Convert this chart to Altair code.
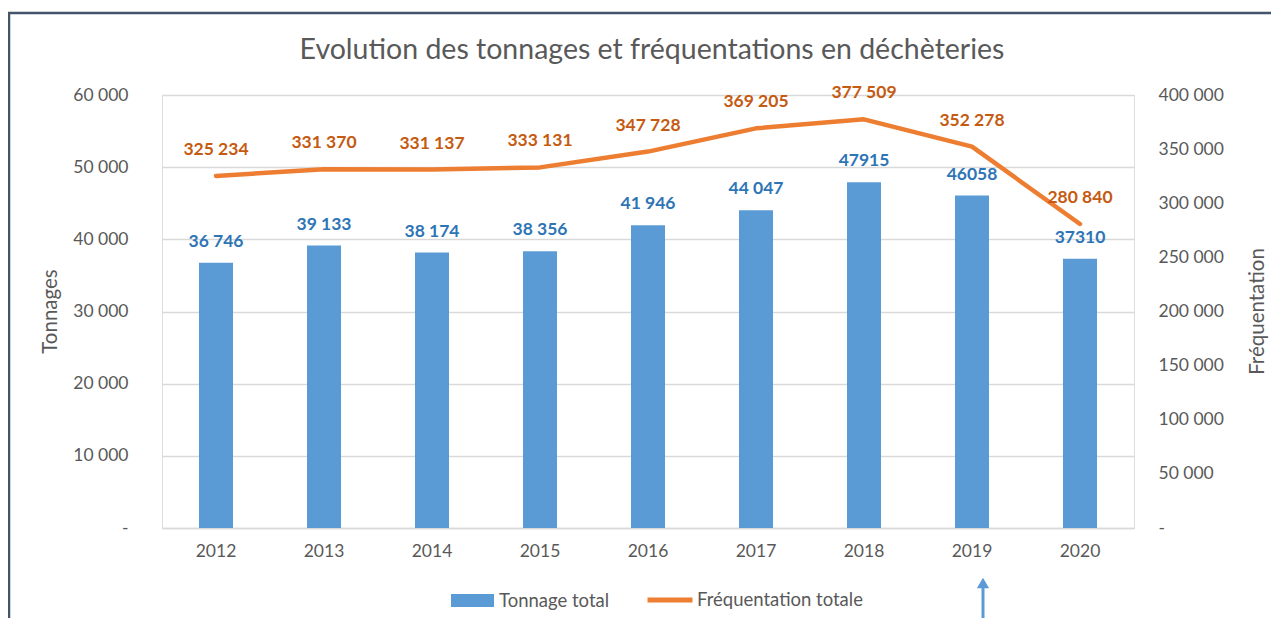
import altair as alt
import pandas as pd

years = ["2012", "2013", "2014", "2015", "2016", "2017", "2018", "2019", "2020"]
tonnage = [36746, 39133, 38174, 38356, 41946, 44047, 47915, 46058, 37310]
tonnage_labels = ["36 746", "39 133", "38 174", "38 356", "41 946", "44 047", "47915", "46058", "37310"]
frequentation = [325234, 331370, 331137, 333131, 347728, 369205, 377509, 352278, 280840]
freq_labels = ["325 234", "331 370", "331 137", "333 131", "347 728", "369 205", "377 509", "352 278", "280 840"]
left_ticks = [0, 10000, 20000, 30000, 40000, 50000, 60000]
right_ticks = [0, 50000, 100000, 150000, 200000, 250000, 300000, 350000, 400000]
title_text = "Evolution des tonnages et fréquentations en déchèteries"

df = pd.DataFrame({
    "annee": years,
    "tonnage": tonnage,
    "tonnage_label": tonnage_labels,
    "freq": frequentation,
    "freq_label": freq_labels,
    "serie_t": ["Tonnage total"] * len(years),
    "serie_f": ["Fréquentation totale"] * len(years),
})

FONT = "Lato"
GREY = "#595959"
BLUE = "#5B9BD5"
ORANGE = "#ED7D31"
LBL_FMT = "datum.value == 0 ? '-' : replace(format(datum.value, ','), ',', ' ')"
TICK_FS = 17.5

x_enc = alt.X(
    "annee:N", sort=years, title=None,
    scale=alt.Scale(type="band", paddingInner=0, paddingOuter=0),
    axis=alt.Axis(labelFontSize=TICK_FS, labelColor=GREY, labelFont=FONT, ticks=False, tickSize=0,
                  labelPadding=14, domainColor="#D9D9D9", domainWidth=1.5, labelAngle=0, grid=False),
)

left_axis = alt.Axis(
    values=left_ticks, labelExpr=LBL_FMT, title="Tonnages", titleFont=FONT, titleFontSize=20.5,
    titleFontWeight="normal", titleColor=GREY, titleX=-112, titleY=216, titleAngle=270,
    titleBaseline="middle", titleAlign="center",
    labelFontSize=TICK_FS, labelFont=FONT, labelColor=GREY, labelPadding=34, ticks=False, tickSize=0,
    domain=False, grid=True, gridColor="#D9D9D9", gridWidth=1.5,
)
right_axis = alt.Axis(
    values=right_ticks, labelExpr=LBL_FMT, title="Fréquentation", orient="right", titleFont=FONT,
    titleFontSize=20.5, titleFontWeight="normal", titleColor=GREY, titleX=123, titleY=216,
    titleAngle=270, titleBaseline="middle", titleAlign="center",
    labelFontSize=TICK_FS, labelFont=FONT, labelColor=GREY, labelPadding=24, ticks=False, tickSize=0,
    domain=False, grid=False,
)

y_left = alt.Y("tonnage:Q", scale=alt.Scale(domain=[0, 60000], nice=False), axis=left_axis)
y_right = alt.Y("freq:Q", scale=alt.Scale(domain=[0, 400000], nice=False), axis=right_axis)

base = alt.Chart(df)

bars = base.mark_bar(size=34).encode(
    x=x_enc, y=y_left,
    fill=alt.Fill("serie_t:N", scale=alt.Scale(domain=["Tonnage total"], range=[BLUE]),
                  legend=alt.Legend(title=None, orient="none", legendX=289, legendY=484,
                                    symbolType="M-1,-0.3H1V0.3H-1Z", symbolSize=1849,
                                    symbolStrokeWidth=0, labelFont=FONT, labelFontSize=18.5,
                                    labelColor=GREY, labelOffset=5, labelLimit=400, padding=0)),
)
bar_text = base.mark_text(dy=-21, fontSize=17.5, fontWeight="bold", color="#2E75B6", font=FONT).encode(
    x=x_enc, y=y_left, text="tonnage_label:N"
)

line = base.mark_line(strokeWidth=4.5, strokeJoin="round", strokeCap="round").encode(
    x=x_enc, y=y_right,
    stroke=alt.Stroke("serie_f:N", scale=alt.Scale(domain=["Fréquentation totale"], range=[ORANGE]),
                      legend=alt.Legend(title=None, orient="none", legendX=483, legendY=480,
                                        symbolType="stroke", symbolSize=2025, symbolStrokeWidth=5,
                                        labelFont=FONT, labelFontSize=18.5, labelColor=GREY,
                                        labelOffset=2, labelLimit=400, padding=0)),
)
line_text = base.mark_text(dy=-26, fontSize=17.5, fontWeight="bold", color="#C55A11", font=FONT).encode(
    x=x_enc, y=y_right, text="freq_label:N"
)

deco = alt.Data(values=[{"k": 1}])
title_mark = alt.Chart(deco).mark_text(
    text=title_text, fontSize=28.5, font=FONT, color=GREY, align="center", baseline="middle"
).encode(x=alt.value(490), y=alt.value(-45))
border = alt.Chart(deco).mark_rect(fill="transparent", stroke="#44546A", strokeWidth=2.5).encode(
    x=alt.value(-153), x2=alt.value(1400), y=alt.value(-82), y2=alt.value(800)
)
arrow_shaft = alt.Chart(deco).mark_rule(color=BLUE, strokeWidth=3).encode(
    x=alt.value(821), y=alt.value(492), y2=alt.value(560)
)
arrow_head = alt.Chart(deco).mark_point(shape="triangle-up", filled=True, color=BLUE, size=150, opacity=1).encode(
    x=alt.value(821), y=alt.value(488)
)

left = alt.layer(bars, bar_text)
right = alt.layer(line, line_text)

chart = alt.layer(left, right, title_mark, border, arrow_shaft, arrow_head).resolve_scale(
    y="independent"
).properties(
    width=972, height=433,
    autosize=alt.AutoSizeParams(type="none"),
    padding={"left": 154, "top": 87, "right": 137, "bottom": 90},
).configure_view(stroke=None).configure(background="white")

chart.save("out.html", embed_options={"renderer": "svg", "actions": False})
